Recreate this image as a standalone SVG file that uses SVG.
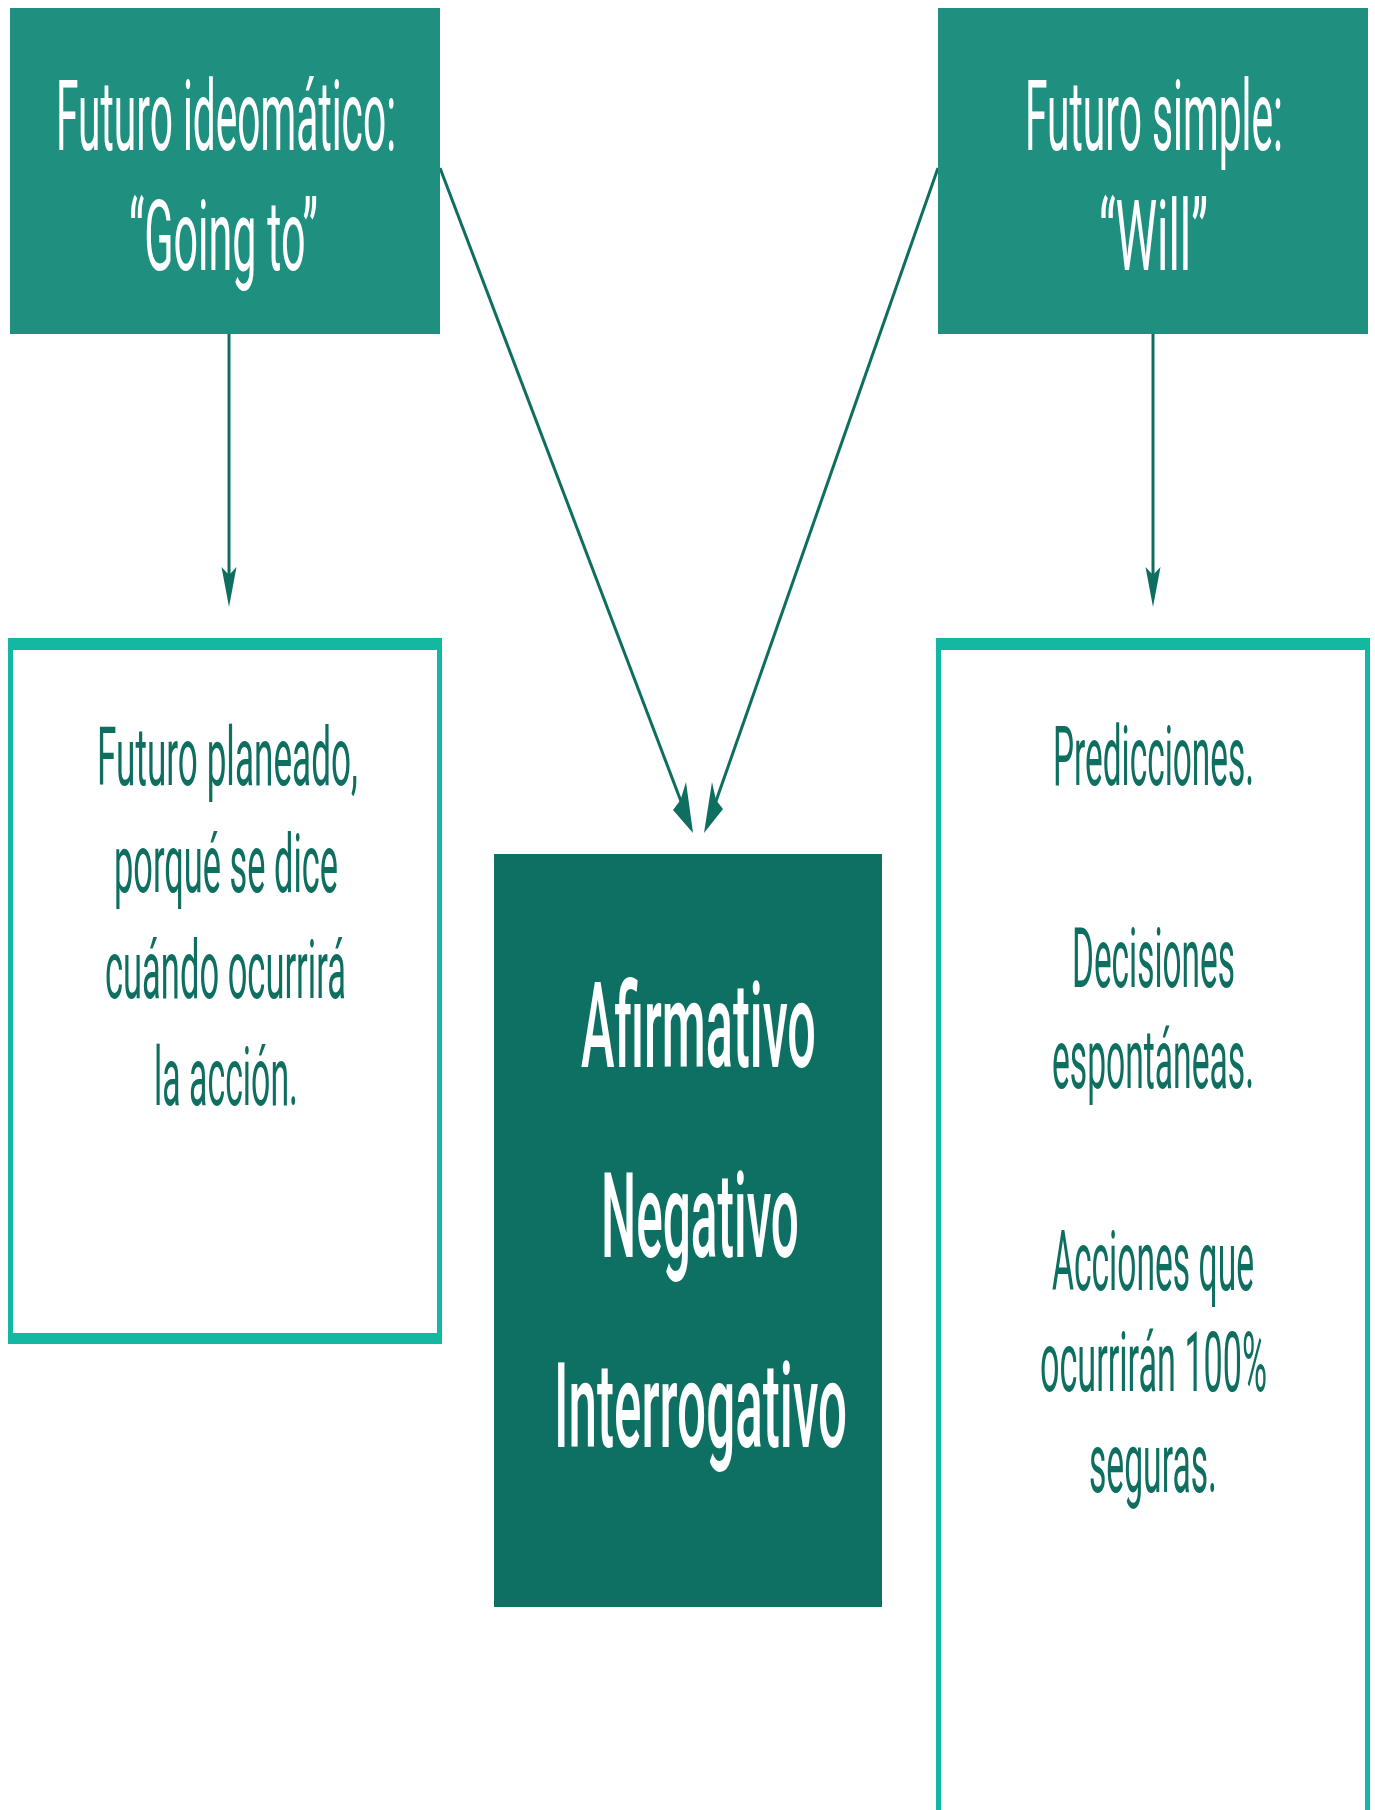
<svg xmlns="http://www.w3.org/2000/svg" width="1375" height="1810" viewBox="0 0 1375 1810">
<style>
.hdr{fill:#1f8f80}
.mid{fill:#0e7063}
.brd{fill:#14b8a2}
.inner{fill:#ffffff}
.wt{fill:#ffffff;font-family:Roboto,"Open Sans",sans-serif}
.gt{fill:#0e6e60;font-family:Roboto,"Open Sans",sans-serif}
.t1{font-size:44.5px;font-weight:400}
.t2{font-size:36.8px;font-weight:400}
.t3{font-size:38.2px;font-weight:400}
.t4{font-size:54px;font-weight:500}
.ln{stroke:#0e6e60;stroke-width:3;fill:none}
.ah{fill:#0e6e60}
</style>
<rect width="1375" height="1810" fill="#ffffff"/>
<g id="connectors">
<line class="ln" x1="229" y1="334" x2="229" y2="580"/>
<polygon class="ah" points="229,607 221.5,567 229,575 236.5,567"/>
<line class="ln" x1="1153" y1="334" x2="1153" y2="580"/>
<polygon class="ah" points="1153,607 1145.5,567 1153,575 1160.5,567"/>
<line class="ln" x1="440" y1="168" x2="682" y2="804"/>
<polygon class="ah" points="693,833 673,810 680.5,800 686,782"/>
<line class="ln" x1="938" y1="168" x2="715" y2="804"/>
<polygon class="ah" points="704,833 723,809 716,800 712,782"/>
</g>
<g id="node-going-to">
<rect class="hdr" x="10" y="8" width="430" height="326"/>
<text class="wt t1" transform="matrix(1,0,0,2.2,0,150)" x="56" y="0" textLength="340" lengthAdjust="spacingAndGlyphs">Futuro ideomático:</text>
<text class="wt t1" transform="matrix(1,0,0,2.2,0,270)" x="129" y="0" textLength="189" lengthAdjust="spacingAndGlyphs">“Going to”</text>
</g>
<g id="node-will">
<rect class="hdr" x="938" y="8" width="430" height="326"/>
<text class="wt t1" transform="matrix(1,0,0,2.2,0,150)" x="1025" y="0" textLength="258" lengthAdjust="spacingAndGlyphs">Futuro simple:</text>
<text class="wt t1" transform="matrix(1,0,0,2.2,0,270)" x="1099" y="0" textLength="109" lengthAdjust="spacingAndGlyphs">“Will”</text>
</g>
<g id="node-planeado">
<rect class="brd" x="8" y="638" width="434" height="706"/>
<rect class="inner" x="13" y="650" width="424" height="683"/>
<text class="gt t2" transform="matrix(1,0,0,2.2,0,785)" x="97" y="0" textLength="261" lengthAdjust="spacingAndGlyphs">Futuro planeado,</text>
<text class="gt t2" transform="matrix(1,0,0,2.2,0,892)" x="114" y="0" textLength="224" lengthAdjust="spacingAndGlyphs">porqué se dice</text>
<text class="gt t2" transform="matrix(1,0,0,2.2,0,998)" x="105" y="0" textLength="241" lengthAdjust="spacingAndGlyphs">cuándo ocurrirá</text>
<text class="gt t2" transform="matrix(1,0,0,2.2,0,1105)" x="154" y="0" textLength="144" lengthAdjust="spacingAndGlyphs">la acción.</text>
</g>
<g id="node-modos">
<rect class="mid" x="494" y="854" width="388" height="753"/>
<text class="wt t4" transform="matrix(1,0,0,2.2,0,1067)" x="581" y="0" textLength="235" lengthAdjust="spacingAndGlyphs">Afirmativo</text>
<text class="wt t4" transform="matrix(1,0,0,2.2,0,1257)" x="601" y="0" textLength="198" lengthAdjust="spacingAndGlyphs">Negativo</text>
<text class="wt t4" transform="matrix(1,0,0,2.2,0,1447)" x="554" y="0" textLength="293" lengthAdjust="spacingAndGlyphs">Interrogativo</text>
</g>
<g id="node-usos-will">
<rect class="brd" x="936" y="638" width="434" height="1200"/>
<rect class="inner" x="941" y="650" width="424" height="1200"/>
<text class="gt t3" transform="matrix(1,0,0,2.2,0,785)" x="1053" y="0" textLength="201" lengthAdjust="spacingAndGlyphs">Predicciones.</text>
<text class="gt t3" transform="matrix(1,0,0,2.2,0,987)" x="1072" y="0" textLength="163" lengthAdjust="spacingAndGlyphs">Decisiones</text>
<text class="gt t3" transform="matrix(1,0,0,2.2,0,1088)" x="1052" y="0" textLength="202" lengthAdjust="spacingAndGlyphs">espontáneas.</text>
<text class="gt t3" transform="matrix(1,0,0,2.2,0,1290)" x="1052" y="0" textLength="202" lengthAdjust="spacingAndGlyphs">Acciones que</text>
<text class="gt t3" transform="matrix(1,0,0,2.2,0,1391)" x="1040" y="0" textLength="227" lengthAdjust="spacingAndGlyphs">ocurrirán 100%</text>
<text class="gt t3" transform="matrix(1,0,0,2.2,0,1492)" x="1089" y="0" textLength="128" lengthAdjust="spacingAndGlyphs">seguras.</text>
</g>
</svg>
